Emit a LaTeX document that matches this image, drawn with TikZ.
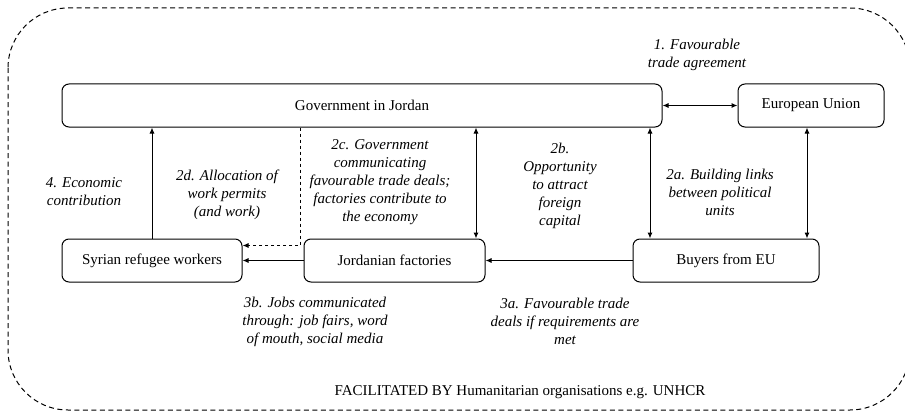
\documentclass[tikz,border=0pt]{standalone}
\usepackage{fontspec}
\setmainfont{Liberation Serif}
\usetikzlibrary{arrows.meta}

\newcommand{\labelsize}{\fontsize{15}{18}\selectfont}

\tikzset{
  actor/.style={draw, rounded corners=7pt, line width=1pt, minimum height=43pt, inner sep=0pt},
  flow/.style={line width=1pt, -{Latex[length=6pt,width=5pt]}},
  twoway/.style={line width=1pt, {Latex[length=6pt,width=5pt]}-{Latex[length=6pt,width=5pt]}},
  note/.style={align=center, font=\labelsize\itshape}
}

\begin{document}
\begin{tikzpicture}[x=1pt, y=-1pt, font=\labelsize]
  \useasboundingbox (0,0) rectangle (905,412);
  \draw[line width=1pt, dash pattern=on 5pt off 3.5pt, rounded corners=60pt] (8,8) rectangle (910,410);

  \node[actor, minimum width=600pt] (gov) at (362,105.5) {Government in Jordan};
  \node[actor, minimum width=146pt] (eu) at (811,105.5) {European Union};
  \node[actor, minimum width=180pt] (syr) at (152,260.5) {Syrian refugee workers};
  \node[actor, minimum width=181pt] (fac) at (394.5,260.5) {Jordanian factories};
  \node[actor, minimum width=186pt] (buy) at (726,260.5) {Buyers from EU};

  \coordinate (xdash) at (300,0);
  \coordinate (xfac) at (476,0);
  \coordinate (xbuy) at (650,0);
  \coordinate (xeu) at (807,0);

  \draw[twoway] (gov.east) -- (eu.west);
  \draw[flow] (syr.north) -- (syr.north |- gov.south);
  \draw[flow, dashed] (gov.south -| xdash) |- ([yshift=15pt]syr.east);
  \draw[twoway] (gov.south -| xfac) -- (fac.north -| xfac);
  \draw[twoway] (gov.south -| xbuy) -- (buy.north -| xbuy);
  \draw[twoway] (eu.south -| xeu) -- (buy.north -| xeu);
  \draw[flow] (buy.west) -- (fac.east);
  \draw[flow] (fac.west) -- (syr.east);

  \node[note] (n1) at (697,55) {1. Favourable\\trade agreement};
  \node[note] (n4) at (84,192) {4. Economic\\contribution};
  \node[note] (n2d) at (227,195) {2d. Allocation of\\work permits\\(and work)};
  \node[note] (n2c) at (380,182) {2c. Government\\communicating\\favourable trade deals;\\factories contribute to\\the economy};
  \node[note] (n2b) at (560,186) {2b.\\Opportunity\\to attract\\foreign\\capital};
  \node[note] (n2a) at (720,192) {2a. Building links\\between political\\units};
  \node[note] (n3b) at (315,322) {3b. Jobs communicated\\through: job fairs, word\\of mouth, social media};
  \node[note] (n3a) at (565,321) {3a. Favourable trade\\deals if requirements are\\met};
  \node (hum) at (520,392) {FACILITATED BY Humanitarian organisations e.g. UNHCR};
\end{tikzpicture}
\end{document}
